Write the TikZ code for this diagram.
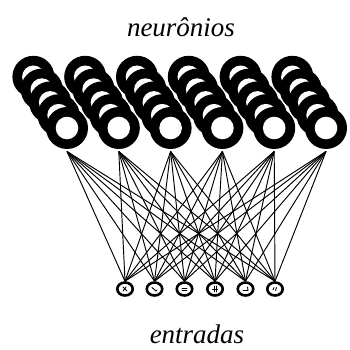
\documentclass[tikz,border=0pt]{standalone}
\usepackage{fontspec}
\setmainfont{Liberation Serif}
\usetikzlibrary{shapes.geometric}
\tikzset{
  inp/.style={ellipse, draw=black, fill=white, line width=2.6pt, minimum width=15.5pt, minimum height=13pt, inner sep=0pt},
  conn/.style={line width=0.95pt, black},
  lbl/.style={font=\fontsize{27}{30}\selectfont\itshape, inner sep=0pt},
  glyphmark/.style={line width=0.9pt, black, line cap=round}
}
\begin{document}
\begin{tikzpicture}[x=1pt,y=-1pt]
\useasboundingbox (0,0) rectangle (349,350);
% neuron columns
\foreach \c in {0,...,5}{
  \begin{scope}[shift={(67+51.8*\c,128)}]
    \foreach \j in {0,...,4}{
      \fill[white] ({-(4-\j)*8.4},{-(4-\j)*12.8}) circle (22.4);
    }
    \foreach \j in {0,...,4}{
      \fill[black] ({-(4-\j)*8.4},{-(4-\j)*12.8}) circle (21);
      \fill[white] ({-(4-\j)*8.4},{-(4-\j)*12.8}) circle (11.3);
    }
  \end{scope}
  \coordinate (a\c) at (67+51.8*\c,151.5);
}
% inputs
\foreach \n/\x in {1/125,2/154.5,3/184.5,4/215,5/245.5,6/275}{
  \node[inp] (i\n) at (\x,289) {};
}
% connections
\foreach \c in {0,...,5}{
  \foreach \n in {1,...,6}{
    \draw[conn] (a\c) -- (i\n.north);
  }
}
% input markings
\draw[glyphmark] ([shift={(-2,-2)}]i1.center) -- ([shift={(2,2)}]i1.center);
\draw[glyphmark] ([shift={(-2,2)}]i1.center) -- ([shift={(1,-2)}]i1.center);
\draw[glyphmark] ([shift={(-2.5,-1.5)}]i2.center) -- ([shift={(1.5,2)}]i2.center) -- ([shift={(2.5,1)}]i2.center);
\draw[glyphmark] ([shift={(-2.5,-1)}]i3.center) -- ([shift={(2.5,-1)}]i3.center);
\draw[glyphmark] ([shift={(-2.5,1)}]i3.center) -- ([shift={(2.5,1)}]i3.center);
\draw[glyphmark] ([shift={(-1,-3)}]i4.center) -- ([shift={(-1,3)}]i4.center);
\draw[glyphmark] ([shift={(1,-3)}]i4.center) -- ([shift={(1,3)}]i4.center);
\draw[glyphmark] ([shift={(-2.5,0)}]i4.center) -- ([shift={(2.5,0)}]i4.center);
\draw[glyphmark] ([shift={(-2.5,1.5)}]i5.center) -- ([shift={(2.5,1.5)}]i5.center) -- ([shift={(2,-2)}]i5.center);
\draw[glyphmark] ([shift={(-2,1)}]i6.center) -- ([shift={(-1,-1.5)}]i6.center);
\draw[glyphmark] ([shift={(0.5,1.5)}]i6.center) -- ([shift={(1.5,-1.5)}]i6.center);
% labels
\node[lbl] (top) at (181,27) {neurônios};
\node[lbl] (bot) at (197,334) {entradas};
\end{tikzpicture}
\end{document}
